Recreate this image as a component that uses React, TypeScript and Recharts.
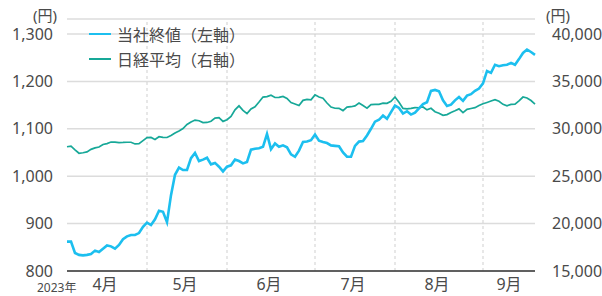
import React from 'react';
import { LineChart, Line, XAxis, YAxis, CartesianGrid, ReferenceLine } from 'recharts';

const monthLabels = ['4月', '5月', '6月', '7月', '8月', '9月'];
const monthStartIdx = [0, 20, 40, 62, 82, 104];
const lastIdx = 117;
const yearLabel = '2023年';
const unitLabel = '(円)';
const seriesNames = ['当社終値（左軸）', '日経平均（右軸）'];

const leftTicks = [800, 900, 1000, 1100, 1200, 1300];
const rightTicks = [15000, 20000, 25000, 30000, 35000, 40000];

// 当社終値 (left axis, 円)
const companyClose = [
  862, 862, 838, 834, 833, 834, 836, 843, 840, 847,
  854, 852, 847, 855, 867, 873, 876, 876, 880, 893,
  902, 897, 909, 927, 925, 903, 960, 1003, 1018, 1013,
  1013, 1038, 1049, 1032, 1035, 1039, 1025, 1028, 1020, 1010,
  1020, 1023, 1035, 1032, 1027, 1030, 1056, 1058, 1059, 1062,
  1089, 1057, 1069, 1062, 1065, 1061, 1046, 1041, 1054, 1072,
  1073, 1076, 1088, 1075, 1072, 1070, 1065, 1064, 1063, 1050,
  1041, 1041, 1064, 1073, 1074, 1086, 1100, 1115, 1119, 1128,
  1121, 1135, 1149, 1144, 1132, 1137, 1130, 1134, 1143, 1152,
  1156, 1180, 1182, 1179, 1160, 1148, 1151, 1160, 1167, 1159,
  1170, 1173, 1180, 1185, 1196, 1222, 1218, 1235, 1232, 1234,
  1235, 1239, 1235, 1247, 1260, 1267, 1262, 1256,
];

// 日経平均 (right axis, 円)
const nikkeiAvg = [
  28110, 28180, 27780, 27420, 27470, 27560, 27830, 27990, 28080, 28350,
  28440, 28600, 28590, 28550, 28560, 28580, 28580, 28400, 28440, 28760,
  29070, 29090, 28880, 29160, 29090, 29080, 29300, 29560, 29780, 30030,
  30460, 30720, 30920, 30850, 30650, 30670, 30800, 31120, 31170, 30780,
  30960, 31300, 32000, 32420, 31950, 31600, 32100, 32330, 32820, 33350,
  33390, 33550, 33300, 33310, 33420, 33200, 32760, 32620, 32450, 33000,
  33100, 33050, 33580, 33350, 33220, 32720, 32300, 32170, 32160, 31920,
  32280, 32330, 32420, 32720, 32450, 32180, 32550, 32580, 32580, 32710,
  32690, 32900, 33350, 32800, 32150, 32100, 32160, 32230, 32220, 32300,
  32000, 32160, 31800, 31650, 31420, 31500, 31730, 31900, 32100, 31700,
  32050, 32140, 32230, 32450, 32640, 32780, 32930, 33080, 32900, 32580,
  32430, 32580, 32610, 32950, 33350, 33250, 32980, 32610,
];

const data = companyClose.map((v, i) => ({ i, company: v, nikkei: nikkeiAvg[i] }));

const monthCenters = monthStartIdx.map((s, k) => {
  const end = k < monthStartIdx.length - 1 ? monthStartIdx[k + 1] - 1 : lastIdx;
  return (s + end) / 2;
});

const BLUE = '#1cbfef';
const GREEN = '#17a898';
const TEXT = '#4a4a4a';
const FONT = "'Noto Sans', 'Noto Sans CJK JP', sans-serif";

const fmt = (v: number) => v.toLocaleString('en-US');

export default function App() {
  return (
    <div
      style={{
        position: 'absolute',
        left: 0,
        top: 0,
        width: 602,
        height: 296,
        background: '#fff',
        fontFamily: FONT,
      }}
    >
      <LineChart
        width={602}
        height={296}
        data={data}
        margin={{ top: 19, right: 0, bottom: 0, left: 0 }}
      >
        <CartesianGrid
          yAxisId="left"
          vertical={false}
          stroke="#dcdcdc"
          strokeWidth={1.5}
        />
        <XAxis
          dataKey="i"
          type="number"
          domain={[0, lastIdx]}
          ticks={monthCenters}
          interval={0}
          tickFormatter={(v: number) => monthLabels[monthCenters.indexOf(v)] ?? ''}
          tickLine={false}
          axisLine={{ stroke: '#333', strokeWidth: 1.5 }}
          tickMargin={2}
          height={25}
          tick={{ fill: TEXT, fontSize: 16, fontFamily: FONT }}
        />
        <YAxis
          yAxisId="left"
          orientation="left"
          domain={[800, 1331.6]}
          allowDataOverflow
          ticks={leftTicks}
          interval={0}
          tickFormatter={fmt}
          axisLine={false}
          tickLine={false}
          tickMargin={8}
          width={67}
          tick={{ fill: TEXT, fontSize: 16, fontFamily: FONT }}
        />
        <YAxis
          yAxisId="right"
          orientation="right"
          domain={[15000, 41582]}
          allowDataOverflow
          ticks={rightTicks}
          interval={0}
          tickFormatter={fmt}
          axisLine={false}
          tickLine={false}
          tickMargin={11}
          width={67}
          tick={{ fill: TEXT, fontSize: 16, fontFamily: FONT, textAnchor: 'start' }}
        />
        {monthStartIdx.slice(1).map((m) => (
          <ReferenceLine
            key={m}
            yAxisId="left"
            x={m}
            stroke="#cfcfcf"
            strokeDasharray="3 3"
            strokeWidth={1}
          />
        ))}
        <Line
          yAxisId="right"
          type="linear"
          dataKey="nikkei"
          stroke={GREEN}
          strokeWidth={1.7}
          dot={false}
          activeDot={false}
          isAnimationActive={false}
        />
        <Line
          yAxisId="left"
          type="linear"
          dataKey="company"
          stroke={BLUE}
          strokeWidth={2.6}
          dot={false}
          activeDot={false}
          isAnimationActive={false}
        />
      </LineChart>

      {/* unit labels */}
      <div style={{ position: 'absolute', left: 33, top: 5, fontSize: 15, color: TEXT, lineHeight: '20px' }}>
        {unitLabel}
      </div>
      <div style={{ position: 'absolute', left: 546, top: 5, fontSize: 15, color: TEXT, lineHeight: '20px' }}>
        {unitLabel}
      </div>
      {/* year label */}
      <div style={{ position: 'absolute', left: 37, top: 280, fontSize: 12, color: TEXT, lineHeight: '16px' }}>
        {yearLabel}
      </div>
      {/* legend */}
      {seriesNames.map((name, k) => (
        <div
          key={name}
          style={{
            position: 'absolute',
            left: 89,
            top: 34 + k * 25 - 11,
            height: 22,
            display: 'flex',
            alignItems: 'center',
            fontSize: 16,
            color: TEXT,
            whiteSpace: 'nowrap',
          }}
        >
          <span
            style={{
              display: 'inline-block',
              width: 22,
              height: k === 0 ? 2.6 : 1.8,
              background: k === 0 ? BLUE : GREEN,
              marginRight: 6,
            }}
          />
          <span style={{ fontFamily: "'Noto Sans CJK JP', sans-serif" }}>{name}</span>
        </div>
      ))}
    </div>
  );
}
